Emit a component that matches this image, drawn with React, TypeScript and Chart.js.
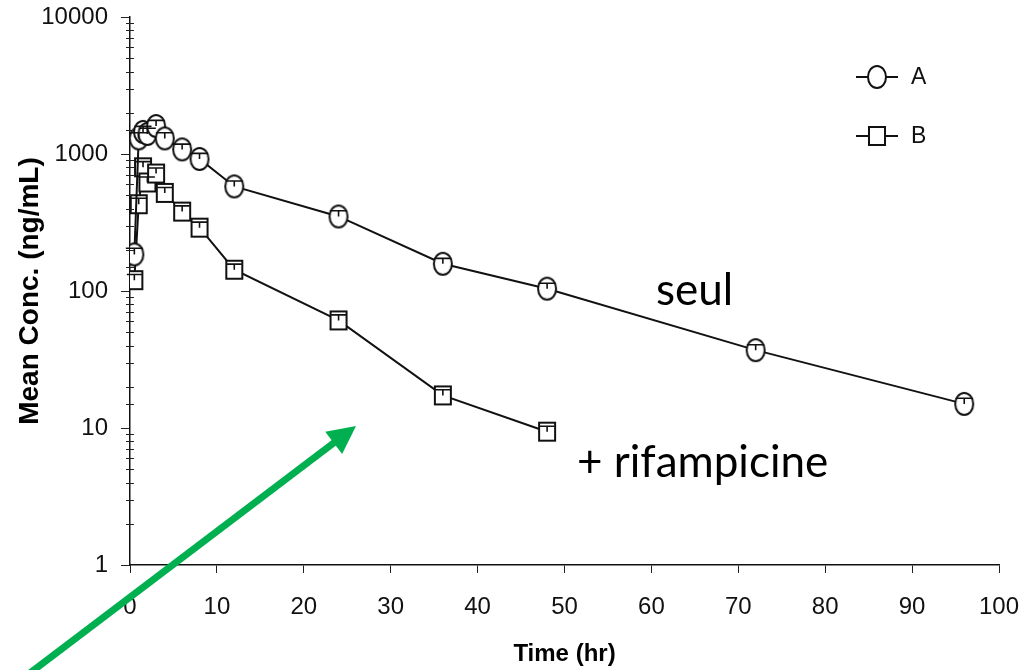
import React, { useEffect, useRef } from "react";
import { Chart, registerables } from "chart.js";

Chart.register(...registerables);

// ---- data ----
const timesA = [0.5, 1, 1.5, 2, 3, 4, 6, 8, 12, 24, 36, 48, 72, 96];
const concA = [185, 1300, 1450, 1400, 1600, 1300, 1080, 920, 580, 350, 158, 104, 37, 15];
const sdA = [20, 130, 140, 140, 160, 130, 100, 90, 55, 35, 15, 10, 3.5, 1.5];

const timesB = [0.5, 1, 1.5, 2, 3, 4, 6, 8, 12, 24, 36, 48];
const concB = [120, 430, 800, 620, 720, 520, 380, 290, 143, 61, 17.3, 9.4];
const sdB = [12, 45, 80, 60, 70, 50, 38, 28, 14, 6, 1.7, 0.9];

const seriesLabels = ["A", "B"];
const yTickValues = [1, 10, 100, 1000, 10000];
const xTickStep = 10;
const xTitle = "Time (hr)";
const yTitle = "Mean Conc. (ng/mL)";
const noteTop = "seul";
const noteBottom = "+ rifampicine";

const FONT = "'Liberation Sans', Arial, sans-serif";
const NOTE_FONT = "Lato, 'Open Sans', sans-serif";

function ellipseMarker(w: number, h: number) {
  const c = document.createElement("canvas");
  c.width = w + 4;
  c.height = h + 4;
  const g = c.getContext("2d")!;
  g.fillStyle = "#ffffff";
  g.strokeStyle = "#111111";
  g.lineWidth = 2;
  g.beginPath();
  g.ellipse(c.width / 2, c.height / 2, w / 2, h / 2, 0, 0, Math.PI * 2);
  g.fill();
  g.stroke();
  return c;
}

function rectMarker(w: number, h: number) {
  const c = document.createElement("canvas");
  c.width = w + 4;
  c.height = h + 4;
  const g = c.getContext("2d")!;
  g.fillStyle = "#ffffff";
  g.strokeStyle = "#111111";
  g.lineWidth = 2;
  g.beginPath();
  g.rect(2, 2, w, h);
  g.fill();
  g.stroke();
  return c;
}

export default function App() {
  const canvasRef = useRef<HTMLCanvasElement | null>(null);

  useEffect(() => {
    document.body.style.margin = "0";
    const canvas = canvasRef.current;
    if (!canvas) return;

    const circle = ellipseMarker(18, 22);
    const square = rectMarker(16, 18);

    const isDecade = (v: number) => {
      const l = Math.log10(v);
      return Math.abs(l - Math.round(l)) < 1e-9;
    };

    const extras = {
      id: "extras",
      afterDatasetsDraw(chart: any) {
        const { ctx } = chart;
        const xs = chart.scales.x;
        const ys = chart.scales.y;
        const groups: [number[], number[], number[], number][] = [
          [timesB, concB, sdB, 15],
          [timesA, concA, sdA, 17],
        ];
        ctx.save();
        ctx.strokeStyle = "#111";
        ctx.lineWidth = 1.6;
        groups.forEach(([t, c, s, cap]) => {
          t.forEach((tv, i) => {
            const px = xs.getPixelForValue(tv);
            const py = ys.getPixelForValue(c[i]);
            const pe = ys.getPixelForValue(c[i] + s[i]);
            ctx.beginPath();
            ctx.moveTo(px, py);
            ctx.lineTo(px, pe);
            ctx.moveTo(px - cap / 2, pe);
            ctx.lineTo(px + cap / 2, pe);
            ctx.stroke();
          });
        });
        ctx.restore();
      },
      afterDraw(chart: any) {
        const { ctx, chartArea } = chart;
        const ys = chart.scales.y;
        const x0 = chartArea.left;
        ctx.save();

        // minor ticks on the log axis
        ctx.strokeStyle = "#222";
        ctx.lineWidth = 1;
        ys.ticks.forEach((tk: any) => {
          if (isDecade(tk.value)) return;
          const py = Math.round(ys.getPixelForValue(tk.value)) + 0.5;
          ctx.beginPath();
          ctx.moveTo(x0 - 4, py);
          ctx.lineTo(x0 + 4, py);
          ctx.stroke();
        });

        // axis titles
        ctx.fillStyle = "#000";
        ctx.font = `bold 24px ${FONT}`;
        ctx.textAlign = "center";
        ctx.textBaseline = "middle";
        ctx.fillText(xTitle, (chartArea.left + chartArea.right) / 2, 654);
        ctx.save();
        ctx.translate(30, (chartArea.top + chartArea.bottom) / 2);
        ctx.rotate(-Math.PI / 2);
        ctx.font = `bold 28px ${FONT}`;
        ctx.fillText(yTitle, 0, 0);
        ctx.restore();

        // legend
        const rows: [string, HTMLCanvasElement, number][] = [
          [seriesLabels[0], circle, 77],
          [seriesLabels[1], square, 136],
        ];
        rows.forEach(([label, img, y]) => {
          ctx.strokeStyle = "#111";
          ctx.lineWidth = 2;
          ctx.beginPath();
          ctx.moveTo(856, y);
          ctx.lineTo(898, y);
          ctx.stroke();
          ctx.drawImage(img, 877 - img.width / 2, y - img.height / 2);
          ctx.fillStyle = "#111";
          ctx.font = `23px ${FONT}`;
          ctx.textAlign = "left";
          ctx.textBaseline = "middle";
          ctx.fillText(label, 911, y + 1);
        });

        // annotations
        ctx.fillStyle = "#000";
        ctx.font = `44px ${NOTE_FONT}`;
        ctx.textAlign = "left";
        ctx.textBaseline = "alphabetic";
        ctx.fillText(noteTop, 656, 305);
        ctx.fillText(noteBottom, 577, 477);

        // green arrow
        const tail = { x: 26, y: 676 };
        const tip = { x: 356, y: 426 };
        const dx = tip.x - tail.x;
        const dy = tip.y - tail.y;
        const len = Math.hypot(dx, dy);
        const ux = dx / len;
        const uy = dy / len;
        const headLen = 28;
        const headHalf = 14;
        const bx = tip.x - ux * headLen;
        const by = tip.y - uy * headLen;
        ctx.strokeStyle = "#00B050";
        ctx.fillStyle = "#00B050";
        ctx.lineWidth = 7;
        ctx.lineCap = "butt";
        ctx.beginPath();
        ctx.moveTo(tail.x, tail.y);
        ctx.lineTo(bx + ux * 2, by + uy * 2);
        ctx.stroke();
        ctx.beginPath();
        ctx.moveTo(tip.x, tip.y);
        ctx.lineTo(bx - uy * headHalf, by + ux * headHalf);
        ctx.lineTo(bx + uy * headHalf, by - ux * headHalf);
        ctx.closePath();
        ctx.fill();

        ctx.restore();
      },
    };

    const chart = new Chart(canvas, {
      type: "line",
      data: {
        datasets: [
          {
            label: seriesLabels[0],
            data: timesA.map((t, i) => ({ x: t, y: concA[i] })),
            borderColor: "#111",
            borderWidth: 2,
            pointStyle: circle as any,
            pointRadius: 9,
            tension: 0,
          },
          {
            label: seriesLabels[1],
            data: timesB.map((t, i) => ({ x: t, y: concB[i] })),
            borderColor: "#111",
            borderWidth: 2,
            pointStyle: square as any,
            pointRadius: 8,
            tension: 0,
          },
        ],
      },
      options: {
        animation: false,
        responsive: false,
        devicePixelRatio: 1,
        layout: { padding: { top: 17, right: 25, left: 0, bottom: 0 } },
        plugins: {
          legend: { display: false },
          tooltip: { enabled: false },
        },
        scales: {
          x: {
            type: "linear",
            min: 0,
            max: 100,
            afterFit: (s: any) => {
              s.height = 105;
              s.paddingLeft = 0;
              s.paddingRight = 0;
            },
            border: { display: true, color: "#111", width: 1.5 },
            grid: {
              drawOnChartArea: false,
              drawTicks: true,
              tickLength: 8,
              tickColor: "#222",
              tickWidth: 1,
            },
            ticks: {
              stepSize: xTickStep,
              padding: 20,
              color: "#111",
              font: { family: FONT, size: 24 },
              maxRotation: 0,
            },
          },
          y: {
            type: "logarithmic",
            min: yTickValues[0],
            max: yTickValues[yTickValues.length - 1],
            afterFit: (s: any) => {
              s.width = 130;
              s.paddingTop = 0;
              s.paddingBottom = 0;
            },
            border: { display: true, color: "#111", width: 1.5 },
            grid: {
              drawOnChartArea: false,
              drawTicks: true,
              tickLength: 9,
              tickWidth: 1,
              tickColor: (c: any) =>
                c.tick && yTickValues.includes(c.tick.value) ? "#222" : "rgba(0,0,0,0)",
            },
            ticks: {
              autoSkip: false,
              padding: 13,
              color: "#111",
              font: { family: FONT, size: 24 },
              callback: (v: any) => (yTickValues.includes(Number(v)) ? String(v) : ""),
            },
          },
        },
      },
      plugins: [extras],
    });

    return () => chart.destroy();
  }, []);

  return (
    <div style={{ width: 1024, height: 670, position: "relative", background: "#fff" }}>
      <canvas ref={canvasRef} width={1024} height={670} />
    </div>
  );
}
